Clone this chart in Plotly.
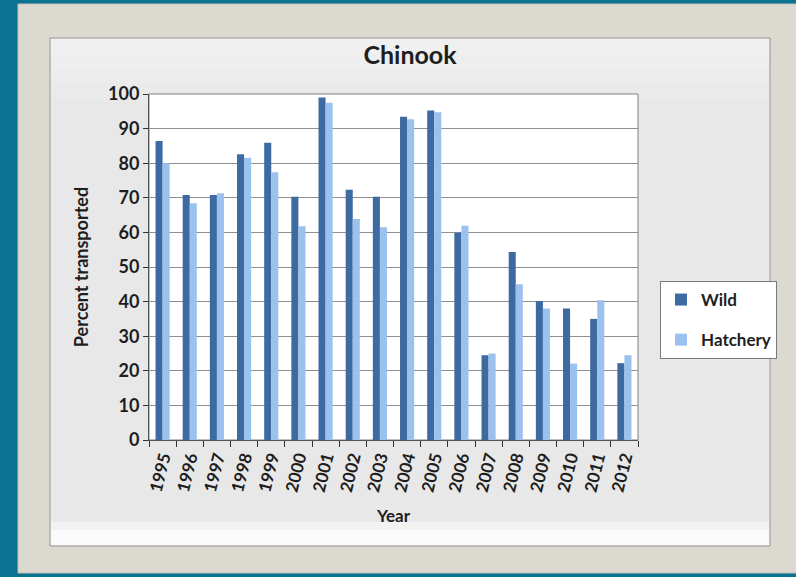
import plotly.graph_objects as go

years = [str(y) for y in range(1995, 2013)]
wild = [86.4, 70.8, 70.8, 82.6, 85.9, 70.3, 99.0, 72.3, 70.3, 93.4, 95.2, 59.9, 24.5, 54.3, 40.2, 38.0, 35.0, 22.2]
hatchery = [80.0, 68.4, 71.3, 81.6, 77.4, 61.8, 97.5, 63.9, 61.5, 92.7, 94.7, 61.9, 25.0, 45.0, 38.0, 22.1, 40.4, 24.5]
y_ticks = list(range(0, 101, 10))

W, H = 796, 577
L, R, T, B = 149, 638, 94, 440  # plot area in pixels


def px(x):
    return (x - L) / (R - L)


def py(y):
    return (B - y) / (B - T)


FONT = "Lato"
TXT = "#1e1e1e"
fig = go.Figure()
fig.add_trace(go.Bar(x=years, y=wild, name="Wild", marker=dict(color="#3d6aa1", line=dict(width=0)),
                     legendgroup="a"))
fig.add_trace(go.Bar(x=years, y=hatchery, name="Hatchery", marker=dict(color="#9bc1ee", line=dict(width=0)),
                     legendgroup="b"))

shapes = [
    # beige frame
    dict(type="rect", xref="paper", yref="paper", x0=px(18), x1=px(800), y0=py(4), y1=py(573),
         fillcolor="#dcd9d1", line=dict(color="#c4c1b9", width=1), layer="below"),
    # inner panel
    dict(type="rect", xref="paper", yref="paper", x0=px(50), x1=px(770), y0=py(38), y1=py(546),
         fillcolor="#e8e8e8", line=dict(color="#9a9893", width=1), layer="below"),
]
# soft vertical gradient in the panel's upper part
grad = ["#f0f0f0", "#eeeeee", "#ececec", "#eaeaea"]
for i, c in enumerate(grad):
    shapes.append(dict(type="rect", xref="paper", yref="paper", x0=px(51), x1=px(769),
                       y0=py(39 + i * 15), y1=py(39 + (i + 1) * 15),
                       fillcolor=c, line=dict(width=0), layer="below"))
shapes += [
    # bottom bevel (lighter)
    dict(type="rect", xref="paper", yref="paper", x0=px(51), x1=px(769), y0=py(530), y1=py(545),
         fillcolor="#fbfbfb", line=dict(width=0), layer="below"),
    dict(type="rect", xref="paper", yref="paper", x0=px(51), x1=px(769), y0=py(522), y1=py(530),
         fillcolor="#f2f2f2", line=dict(width=0), layer="below"),
    # plot area white
    dict(type="rect", xref="paper", yref="paper", x0=0, x1=1, y0=0, y1=1,
         fillcolor="#ffffff", line=dict(color="#7f7f7f", width=1), layer="below"),
]

fig.update_layout(
    width=W, height=H,
    margin=dict(l=L, r=W - R, t=T, b=H - B),
    paper_bgcolor="#0a7391",
    plot_bgcolor="rgba(0,0,0,0)",
    shapes=shapes,
    barmode="group",
    bargap=0.48,
    bargroupgap=0,
    font=dict(family=FONT, color=TXT),
    title=dict(text="Chinook", x=px(410), xref="paper", xanchor="center",
               y=1 - 55 / H, yanchor="middle", font=dict(size=25, family=FONT, color=TXT, weight="bold")),
    legend=dict(x=px(660), y=py(281), xanchor="left", yanchor="top", bgcolor="#ffffff",
                bordercolor="#7a7a7a", borderwidth=1,
                font=dict(size=17, family=FONT, color=TXT, weight="bold"),
                traceorder="grouped", tracegroupgap=15, itemwidth=30),
    xaxis=dict(type="category", tickangle=-76, tickson="boundaries", ticks="outside", ticklen=6,
               tickcolor="#333333", showline=True, linecolor="#555555", linewidth=1,
               tickfont=dict(size=17, family=FONT, color=TXT, weight="bold"),
               title=dict(text="Year", font=dict(size=17, family=FONT, color=TXT, weight="bold"), standoff=16)),
    yaxis=dict(range=[0, 100], tickvals=y_ticks, ticks="outside", ticklen=5, tickcolor="#333333",
               showline=True, linecolor="#555555", linewidth=1, gridcolor="#8f8f8f", gridwidth=1,
               tickfont=dict(size=18, family=FONT, color=TXT, weight="bold"), zeroline=False,
               title=dict(text="Percent transported",
                          font=dict(size=18, family=FONT, color=TXT, weight="bold"), standoff=14)),
)

fig.write_html("out.html", config={"displayModeBar": False},
               post_script="document.body.style.margin='0';document.body.style.overflow='hidden';"
                           "document.body.style.background='#0a7391';")
